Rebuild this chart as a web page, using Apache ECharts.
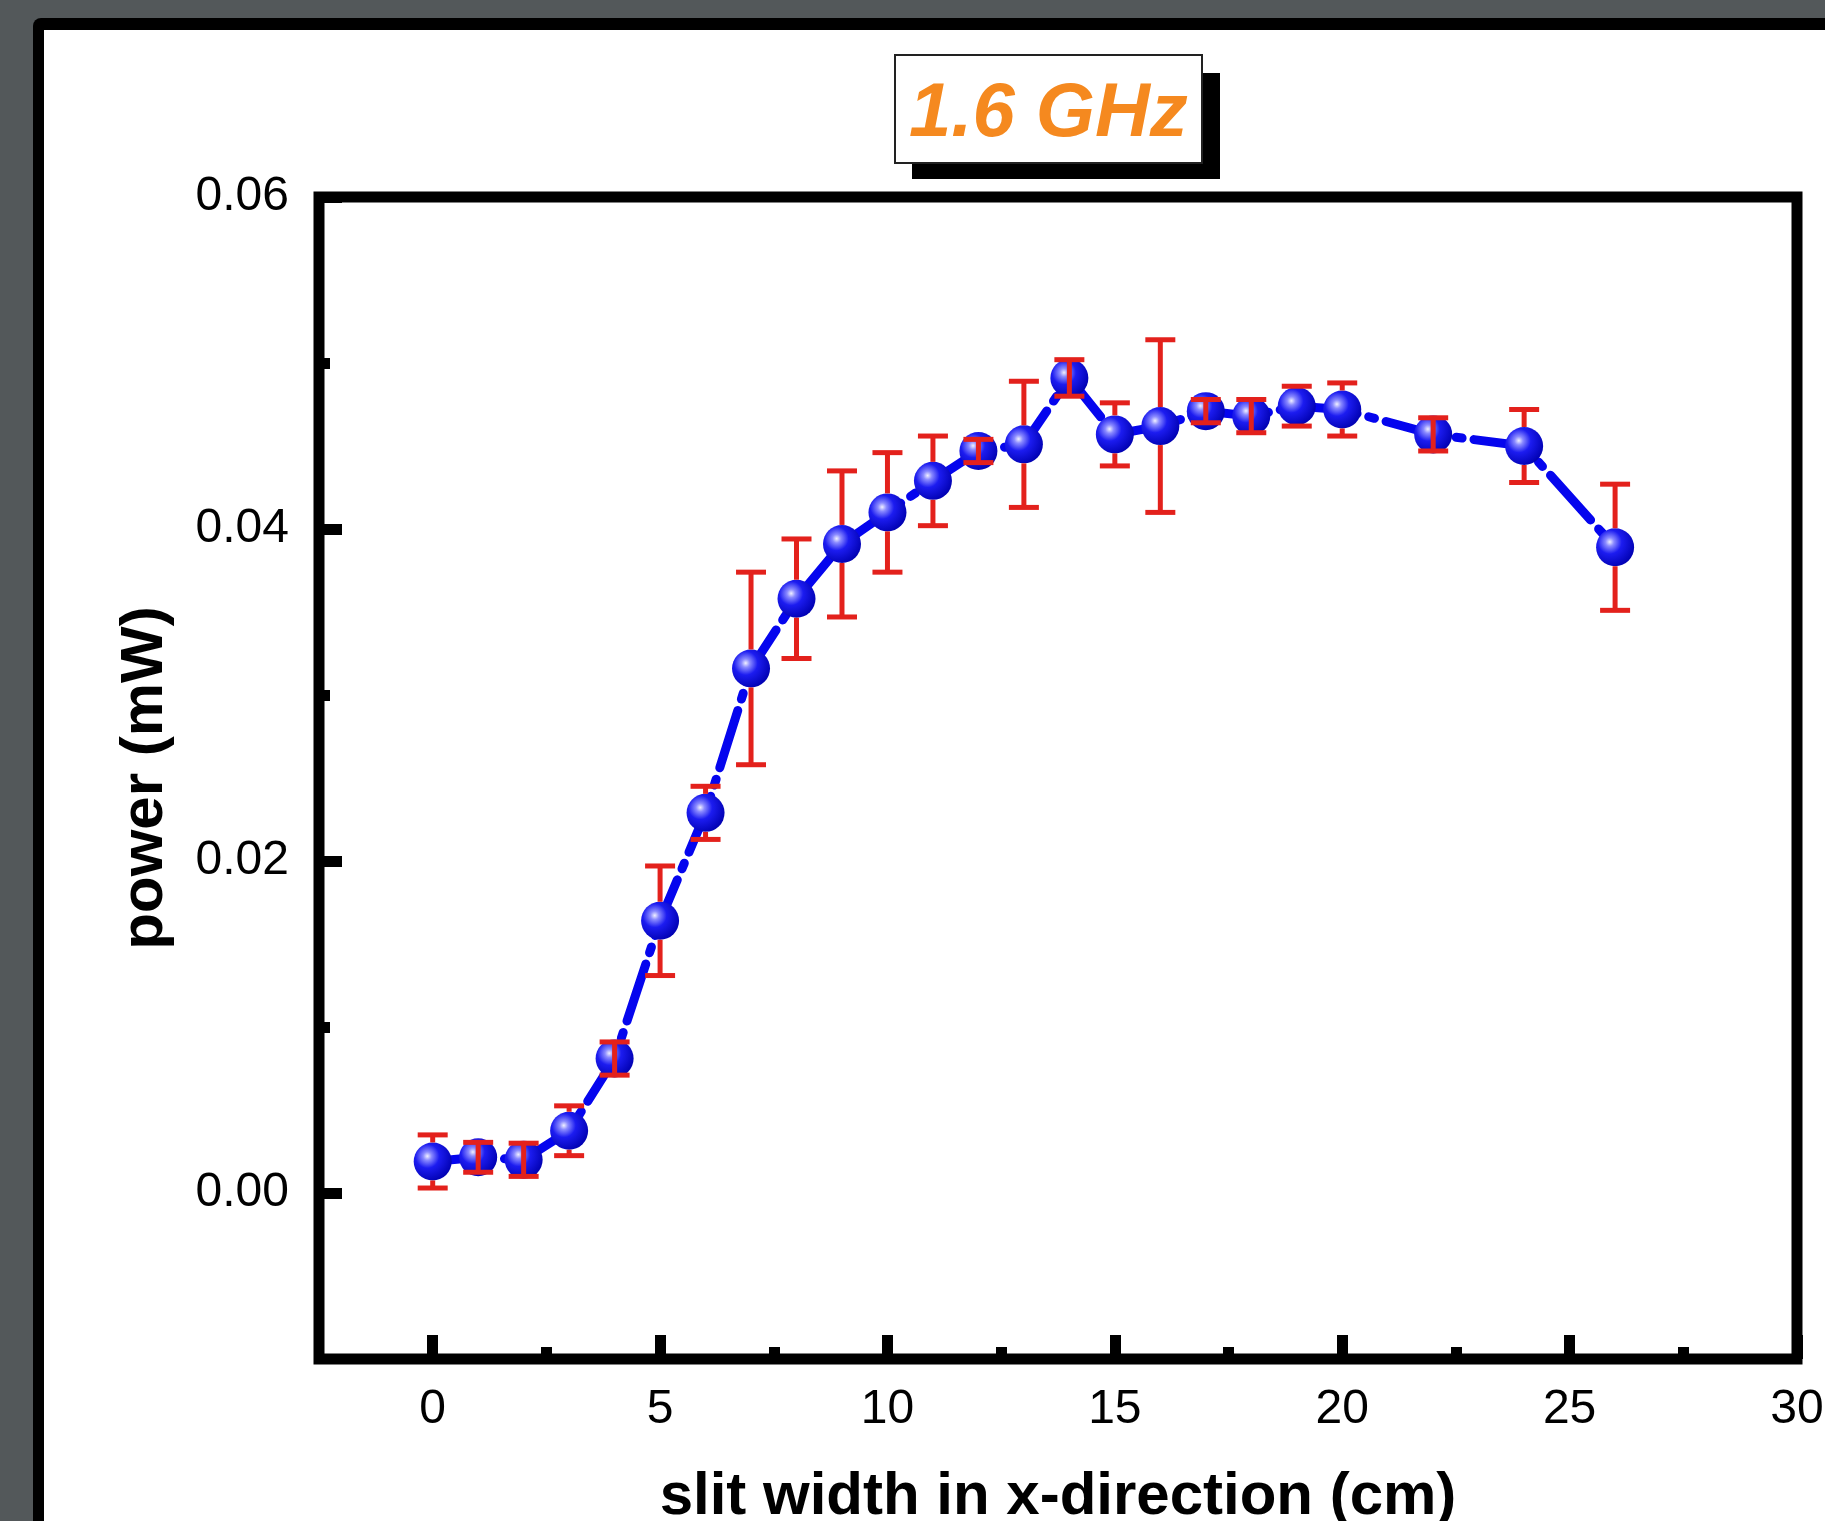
<!DOCTYPE html>
<html>
<head>
<meta charset="utf-8">
<script src="https://cdn.jsdelivr.net/npm/echarts/dist/echarts.min.js"></script>
<style>
  html, body { margin: 0; padding: 0; background: #53585a; width: 1825px; height: 1521px; overflow: hidden; }
  #panel { position: absolute; left: 33px; top: 18px; width: 1900px; height: 1600px; background: #000; border-radius: 8px 0 0 0; }
  #panelInner { position: absolute; left: 44px; top: 30px; width: 1900px; height: 1600px; background: #fff; }
  #chart { position: absolute; left: 0; top: 0; width: 1825px; height: 1521px; }
</style>
</head>
<body>
<div id="panel"></div>
<div id="panelInner"></div>
<div id="chart"></div>
<script>
// ---- data ----
const xValues = [0, 1, 2, 3, 4, 5, 6, 7, 8, 9, 10, 11, 12, 13, 14, 15, 16, 17, 18, 19, 20, 22, 24, 26];
const powerValues = [0.0019, 0.00215, 0.0020, 0.00375, 0.0081, 0.0164, 0.0229, 0.0316, 0.0358, 0.0391, 0.0410, 0.0429,
                     0.0447, 0.0451, 0.0491, 0.0457, 0.0462, 0.0471, 0.0468, 0.0474, 0.0472, 0.0457, 0.0450, 0.0389];
const powerErrors = [0.0016, 0.0009, 0.0010, 0.0015, 0.0010, 0.0033, 0.0016, 0.0058, 0.0036, 0.0044, 0.0036, 0.0027,
                     0.0007, 0.0038, 0.0011, 0.0019, 0.0052, 0.0007, 0.0010, 0.0012, 0.0016, 0.0010, 0.0022, 0.0038];
const xMajorTicks = [0, 5, 10, 15, 20, 25, 30];
const xMinorTicks = [2.5, 7.5, 12.5, 17.5, 22.5, 27.5];
const yMajorTicks = [0, 0.02, 0.04, 0.06];
const yMinorTicks = [0.01, 0.03, 0.05];
const xRange = [-2.5, 30];
const yRange = [-0.01, 0.06];
const chartTitle = '1.6 GHz';
const xAxisTitle = 'slit width in x-direction (cm)';
const yAxisTitle = 'power (mW)';

// ---- build ----
const points = xValues.map((x, i) => [x, powerValues[i]]);
const errPoints = xValues.map((x, i) => [x, powerValues[i], powerErrors[i]]);

const FONT = "'Liberation Sans', Arial, sans-serif";
const MARKER = 38;
const ERR_COLOR = '#e3211c';

const chart = echarts.init(document.getElementById('chart'), null, { renderer: 'canvas' });

const baseX = {
  type: 'value', min: xRange[0], max: xRange[1], gridIndex: 0, position: 'bottom',
  axisLine: { show: false, onZero: false }, splitLine: { show: false }
};
const baseY = {
  type: 'value', min: yRange[0], max: yRange[1], gridIndex: 0, position: 'left',
  axisLine: { show: false, onZero: false }, splitLine: { show: false }
};

chart.setOption({
  animation: false,
  backgroundColor: 'transparent',
  title: {
    text: chartTitle,
    left: 895, top: 55,
    padding: [20, 14, 8, 14],
    backgroundColor: '#ffffff',
    borderColor: '#222',
    borderWidth: 2,
    z: 10,
    textStyle: { color: '#f5891f', fontSize: 76, fontWeight: 'bold', fontStyle: 'italic', fontFamily: FONT, lineHeight: 80 }
  },
  graphic: [{
    type: 'rect', z: 1,
    shape: { x: 912, y: 73, width: 308, height: 106 },
    style: { fill: '#000' }
  }],
  grid: {
    left: 319, top: 197, right: 28, bottom: 162,
    containLabel: false, outerBoundsMode: 'none',
    show: true, borderColor: '#000', borderWidth: 11, backgroundColor: 'transparent'
  },
  xAxis: [
    Object.assign({}, baseX, {
      name: xAxisTitle, nameLocation: 'middle', nameGap: 108,
      nameTextStyle: { fontSize: 60, fontWeight: 'bold', color: '#000', fontFamily: FONT },
      axisTick: { show: true, inside: true, length: 24, lineStyle: { color: '#000', width: 11 }, customValues: xMajorTicks },
      axisLabel: { show: true, margin: 27, fontSize: 48, color: '#000', fontFamily: FONT, customValues: xMajorTicks }
    }),
    Object.assign({}, baseX, {
      axisTick: { show: true, inside: true, length: 12, lineStyle: { color: '#000', width: 11 }, customValues: xMinorTicks },
      axisLabel: { show: false }
    })
  ],
  yAxis: [
    Object.assign({}, baseY, {
      name: yAxisTitle, nameLocation: 'middle', nameGap: 144,
      nameTextStyle: { fontSize: 60, fontWeight: 'bold', color: '#000', fontFamily: FONT },
      axisTick: { show: true, inside: true, length: 23, lineStyle: { color: '#000', width: 11 }, customValues: yMajorTicks },
      axisLabel: { show: true, margin: 30, fontSize: 48, color: '#000', fontFamily: FONT, customValues: yMajorTicks,
                   formatter: v => v.toFixed(2) }
    }),
    Object.assign({}, baseY, {
      axisTick: { show: true, inside: true, length: 11, lineStyle: { color: '#000', width: 11 }, customValues: yMinorTicks },
      axisLabel: { show: false }
    })
  ],
  series: [
    {
      type: 'line', xAxisIndex: 0, yAxisIndex: 0, z: 2,
      data: points,
      symbol: 'circle', symbolSize: MARKER,
      lineStyle: { color: '#0505ee', width: 9, type: [60, 12, 6, 12], cap: 'round' },
      itemStyle: {
        color: new echarts.graphic.RadialGradient(0.36, 0.36, 0.7, [
          { offset: 0, color: '#f0f0ff' },
          { offset: 0.16, color: '#8a8aff' },
          { offset: 0.45, color: '#1c1cf0' },
          { offset: 1, color: '#0000b0' }
        ])
      }
    },
    {
      type: 'custom', xAxisIndex: 0, yAxisIndex: 0, z: 3,
      data: errPoints,
      encode: { x: 0, y: 1 },
      renderItem: function (params, api) {
        const x = api.value(0), y = api.value(1), e = api.value(2);
        const c = api.coord([x, y]);
        const top = api.coord([x, y + e])[1];
        const bot = api.coord([x, y - e])[1];
        const r = MARKER / 2;
        const hw = 15;
        const st = { stroke: ERR_COLOR, lineWidth: 5 };
        const ch = [];
        if (c[1] - top > r) {
          ch.push({ type: 'line', shape: { x1: c[0], y1: top, x2: c[0], y2: c[1] - r }, style: st });
          ch.push({ type: 'line', shape: { x1: c[0], y1: c[1] + r, x2: c[0], y2: bot }, style: st });
        } else {
          ch.push({ type: 'line', shape: { x1: c[0], y1: top, x2: c[0], y2: bot }, style: st });
        }
        ch.push({ type: 'line', shape: { x1: c[0] - hw, y1: top, x2: c[0] + hw, y2: top }, style: st });
        ch.push({ type: 'line', shape: { x1: c[0] - hw, y1: bot, x2: c[0] + hw, y2: bot }, style: st });
        return { type: 'group', children: ch };
      }
    }
  ]
});
</script>
</body>
</html>
